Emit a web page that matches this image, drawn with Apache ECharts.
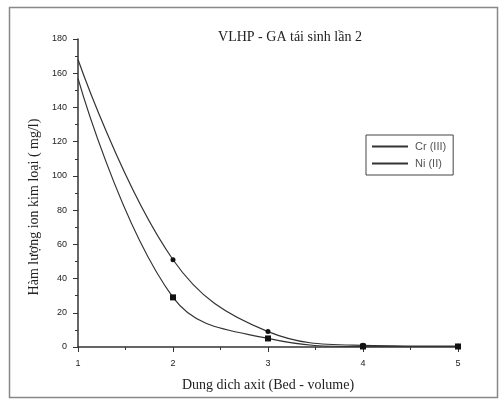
<!DOCTYPE html>
<html>
<head>
<meta charset="utf-8">
<script src="https://cdn.jsdelivr.net/npm/echarts@6/dist/echarts.min.js"></script>
<style>
  html, body { margin: 0; padding: 0; background: #fff; }
  #chart { width: 501px; height: 404px; }
</style>
</head>
<body>
<div id="chart"></div>
<script>
// Bed volumes of acid solution passed through the column
const bedVolumes = [1, 2, 3, 4, 5];
// Metal ion concentration in the eluate (mg/l)
const crValues = [168, 51, 9, 1, 0.5];
const niValues = [157, 29, 5, 0.3, 0.3];
const yTicks = [0, 20, 40, 60, 80, 100, 120, 140, 160, 180];

// The starting point sits on the y axis and carries no marker
const pairs = (xs, ys) => xs.map((x, i) =>
  i === 0 ? { value: [x, ys[i]], symbolSize: 0 } : [x, ys[i]]);

const chart = echarts.init(document.getElementById('chart'), null, { renderer: 'canvas' });
const ink = '#333';
const serif = '"Liberation Serif", "DejaVu Serif", serif';
const sans = '"Liberation Sans", Arial, sans-serif';

chart.setOption({
  backgroundColor: '#fff',
  animation: false,
  graphic: [{
    type: 'rect',
    shape: { x: 9.5, y: 7.5, width: 488, height: 390 },
    style: { fill: 'none', stroke: '#888', lineWidth: 1.5 },
    silent: true
  }],
  title: {
    text: 'VLHP - GA tái sinh lần 2',
    left: 285, top: 25, textAlign: 'center',
    textStyle: { fontFamily: serif, fontSize: 14, fontWeight: 'normal', color: '#222' }
  },
  legend: {
    left: 366, top: 135, orient: 'vertical',
    itemGap: 6,
    padding: [6, 7, 6, 6],
    borderColor: '#444', borderWidth: 1,
    itemWidth: 36, itemHeight: 2,
    icon: 'rect',
    textStyle: { fontFamily: sans, fontSize: 11, color: '#555', padding: [0, 0, 0, 2] },
    data: [
      { name: 'Cr (III)', itemStyle: { color: ink } },
      { name: 'Ni (II)', itemStyle: { color: ink } }
    ]
  },
  grid: { left: 78, right: 43, top: 39, bottom: 57 },
  xAxis: {
    type: 'value', min: 1, max: 5, interval: 1,
    name: 'Dung dich axit (Bed - volume)',
    nameLocation: 'middle', nameGap: 31,
    nameTextStyle: { fontFamily: serif, fontSize: 14, color: '#222' },
    axisLine: { onZero: false, lineStyle: { color: ink, width: 1.5 } },
    axisTick: { inside: false, length: 5, lineStyle: { color: ink } },
    minorTick: { show: true, splitNumber: 2, length: 3, lineStyle: { color: ink } },
    splitLine: { show: false },
    axisLabel: { fontFamily: sans, fontSize: 9, color: '#222', margin: 12 }
  },
  yAxis: {
    type: 'value', min: yTicks[0], max: yTicks[yTicks.length - 1], interval: 20,
    name: 'Hàm lượng ion kim loại ( mg/l)',
    nameLocation: 'middle', nameGap: 36, nameRotate: 90,
    nameTextStyle: { fontFamily: serif, fontSize: 14, color: '#222', padding: [0, 28, 0, 0] },
    axisLine: { show: true, lineStyle: { color: ink, width: 1.5 } },
    axisTick: { inside: false, length: 5, lineStyle: { color: ink } },
    minorTick: { show: true, splitNumber: 2, length: 3, lineStyle: { color: ink } },
    splitLine: { show: false },
    axisLabel: { fontFamily: sans, fontSize: 9, color: '#222', margin: 11 }
  },
  series: [
    {
      name: 'Cr (III)', type: 'line',
      data: pairs(bedVolumes, crValues),
      smooth: 0.4,
      symbol: 'circle', symbolSize: 5,
      showSymbol: true,
      lineStyle: { color: ink, width: 1.2 },
      itemStyle: { color: '#111' }
    },
    {
      name: 'Ni (II)', type: 'line',
      data: pairs(bedVolumes, niValues),
      smooth: 0.4,
      symbol: 'rect', symbolSize: 6,
      lineStyle: { color: ink, width: 1.2 },
      itemStyle: { color: '#111' }
    }
  ]
});
</script>
</body>
</html>
